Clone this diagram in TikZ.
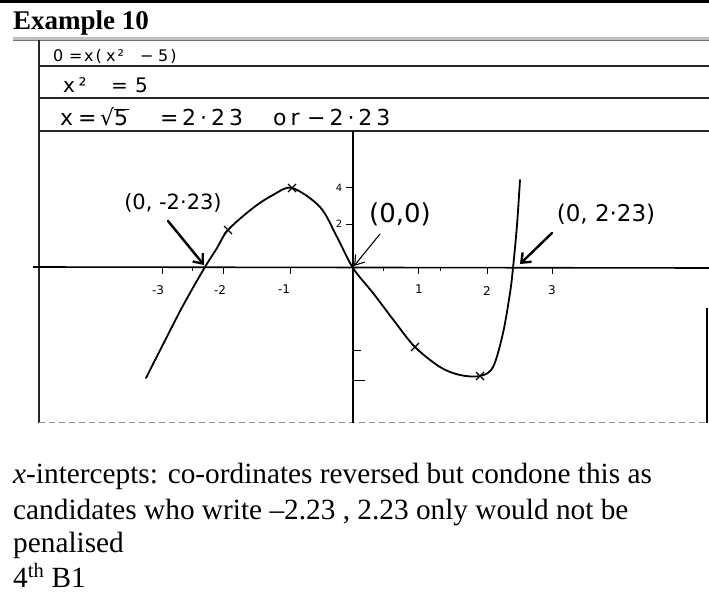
\documentclass[tikz,border=0pt]{standalone}
\usepackage{fontspec}
\setmainfont{Liberation Serif}
\newfontfamily\handA[LetterSpace=12]{DejaVu Sans}
\newfontfamily\handB[LetterSpace=18]{DejaVu Sans}
\newfontfamily\handplain{DejaVu Sans}
\newcommand{\tk}[2]{\makebox[#1pt][l]{#2}}
\usetikzlibrary{arrows.meta}
\begin{document}
\begin{tikzpicture}[x=1pt,y=-1pt,
  rule/.style={line width=1.4pt, black!85},
  axisline/.style={line width=1.6pt},
  curve/.style={line width=1.8pt, line join=round, line cap=round},
  hw/.style={inner sep=0pt, anchor=base west},
  lbl/.style={inner sep=0pt, font=\handplain\fontsize{21}{24}\selectfont},
  body/.style={inner sep=0pt, anchor=base west, font=\fontsize{29.3}{34}\selectfont},
  ticklbl/.style={inner sep=0pt, font=\handplain\fontsize{12}{12}\selectfont},
  tickmark/.style={line width=1pt},
  xmark/.style={line width=1.1pt},
  thickarrow/.style={line width=2.4pt, line cap=round, -{Straight Barb[length=8pt,width=13pt]}},
  thinarrow/.style={line width=1.1pt, line cap=round, -{Straight Barb[length=9pt,width=12pt]}}
]
\useasboundingbox (0,0) rectangle (709,596);
% top rule and heading
\draw[line width=3pt] (0,1.5) -- (709,1.5);
\node[anchor=base west, inner sep=0pt, font=\bfseries\fontsize{27}{30}\selectfont] (title) at (13,30) {Example 10};
% scan edge
\draw[line width=3pt, black!25] (13,38.5) -- (709,38.5);
\draw[line width=0.7pt, black!55] (13,40.5) -- (709,40.5);
% scan frame lines
\draw[rule] (39,40) -- (39,423);
\draw[rule] (39,66) -- (709,66);
\draw[rule] (39,98) -- (709,98);
\draw[rule] (39,131) -- (709,131);
\draw[line width=1.2pt] (707,308) -- (707,423);
\draw[line width=0.8pt, black!45, dash pattern=on 6pt off 4pt] (39,422) -- (709,422);
% handwritten working
\node[hw, font=\handA\fontsize{16}{18}\selectfont] (h1) at (53,62)
  {\tk{16}{0}\tk{15}{=}\tk{22}{x(}\tk{34}{x²}\tk{18}{−}5)};
\node[hw, font=\handB\fontsize{20}{22}\selectfont] (h2) at (63,93)
  {\tk{48}{x²}\tk{24}{=}5};
\node[hw, font=\handB\fontsize{22}{24}\selectfont] (h3) at (60,126)
  {\tk{18}{x}\tk{22}{=}\tk{60}{\handplain √\rlap{\rule[16.2pt]{15pt}{1pt}}5}\tk{22}{=}\tk{91}{2·23}\tk{34}{or}−2·23};
% axes
\draw[axisline] (353,131) -- (353,423);
\draw[axisline] (33,267) -- (709,268);
% x ticks
\foreach \t in {162,223,290,418,487,552} \draw[tickmark] (\t,267) -- (\t,274);
\foreach \t in {192,383,440} \draw[line width=0.7pt] (\t,267) -- (\t,271);
\node[ticklbl] (xm3) at (158,290) {-3};
\node[ticklbl] (xm2) at (220,290) {-2};
\node[ticklbl] (xm1) at (284,289) {-1};
\node[ticklbl] (xp1) at (419,289) {1};
\node[ticklbl] (xp2) at (487,291) {2};
\node[ticklbl] (xp3) at (552,290) {3};
% y ticks
\node[ticklbl, font=\handplain\fontsize{10}{10}\selectfont] (y4) at (339,188) {4};
\node[ticklbl, font=\handplain\fontsize{10}{10}\selectfont] (y2) at (339,224) {2};
\draw[tickmark] (346,188) -- (353,188);
\draw[tickmark] (346,224) -- (353,224);
\draw[tickmark] (353,350) -- (361,350);
\draw[tickmark] (353,380) -- (365,380);
% curve
\draw[curve] plot[smooth, tension=0.55] coordinates {(146,378) (177,317) (190,293) (205,267) (217,248) (228,230) (253,208) (273,195) (292,188) (320,207) (337,237) (353,268) (373,293) (395,322) (415,347) (440,367) (460,375) (480,376) (493,367) (503,333) (510,293) (513,268) (517,225) (520,180)};
% crosses on curve
\foreach \px/\py in {228/230, 292/188, 415/347, 480/376}
  \draw[xmark] (\px-4,\py-4) -- (\px+4,\py+4) (\px-4,\py+4) -- (\px+4,\py-4);
% intercept labels and arrows
\node[lbl] (lA) at (173,203) {(0, -2·23)};
\coordinate (tA) at (168,221);
\coordinate (pA) at (204,265);
\draw[thickarrow] (tA) -- (pA);
\node[lbl, font=\handplain\fontsize{26}{28}\selectfont] (lO) at (400,214) {(0,0)};
\coordinate (tO) at (380,234);
\coordinate (pO) at (354,266);
\draw[thinarrow] (tO) -- (pO);
\node[lbl, font=\handplain\fontsize{23}{26}\selectfont] (lB) at (606,214) {(0, 2·23)};
\coordinate (tB) at (552,233);
\coordinate (pB) at (520,264);
\draw[thickarrow] (tB) -- (pB);
% mark scheme comment
\node[body] (t1) at (13,483) {\textit{x}-intercepts: co-ordinates reversed but condone this as};
\node[body] (t2) at (13,519) {candidates who write –2.23 , 2.23 only would not be};
\node[body] (t3) at (13,552) {penalised};
\node[body] (t4) at (13,587) {4\textsuperscript{th} B1};
\end{tikzpicture}
\end{document}
